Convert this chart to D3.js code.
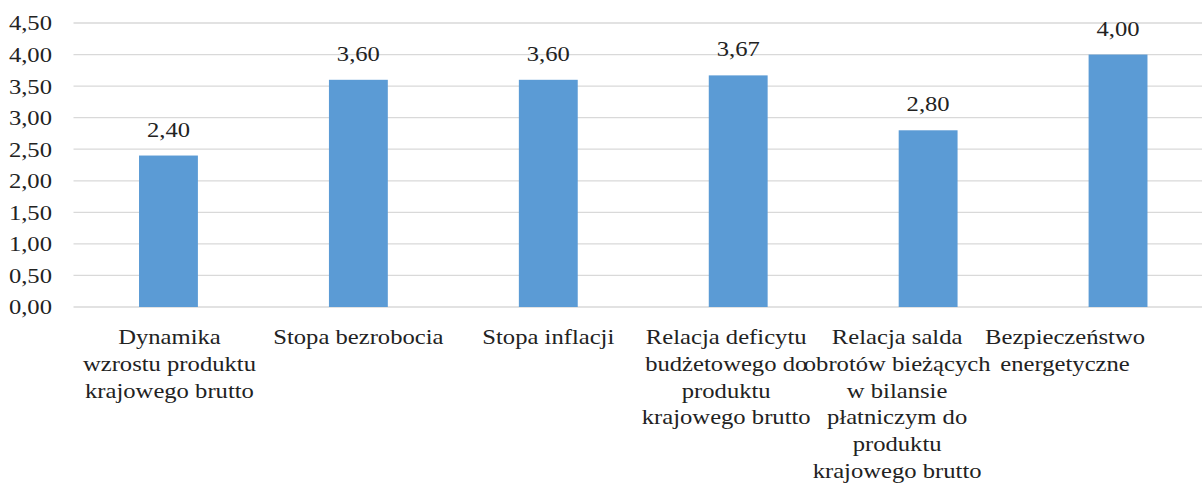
<!DOCTYPE html>
<html>
<head>
<meta charset="utf-8">
<script src="https://cdn.jsdelivr.net/npm/d3@7"></script>
</head>
<body style="margin:0">
<script>
let categories = [
    'Dynamika\nwzrostu produktu\nkrajowego brutto',
    'Stopa bezrobocia',
    'Stopa inflacji',
    'Relacja deficytu\nbudżetowego do\nproduktu\nkrajowego brutto',
    'Relacja salda\nobrotów bieżących\nw bilansie\npłatniczym do\nproduktu\nkrajowego brutto',
    'Bezpieczeństwo\nenergetyczne'
];
let values = [2.40, 3.60, 3.60, 3.67, 2.80, 4.00];
let yTicks = [0, 0.5, 1, 1.5, 2, 2.5, 3, 3.5, 4, 4.5];

let width = 1202;
let height = 490;
let mLeft = 73.5, mRight = 1213, mTop = 23, mBottom = 307;
let fam = 'Times New Roman';
let stretch = 'scale(1.12,1)'; // the original text is a bit wider than Times

// Excel pushed the later category labels left a little
let labelNudge = [1, 0, 0, -12, -31, -53];

let pl = d3.formatLocale({decimal: ',', thousands: ' ', grouping: [3], currency: ['', '']});
let fmt = pl.format('.2f');

let x = d3.scaleBand()
    .domain(d3.range(categories.length))
    .range([mLeft, mRight])
    .paddingInner(0.69)
    .paddingOuter(0.345);
let y = d3.scaleLinear().domain([0, 4.5]).range([mBottom, mTop]);

let svg = d3.select('body')
    .append('svg')
        .attr('width', width)
        .attr('height', height);

// gridlines
svg.selectAll('.grid')
        .data(yTicks)
    .enter().append('line')
        .attr('class', 'grid')
        .attr('x1', mLeft)
        .attr('x2', mRight)
        .attr('y1', (d) => y(d))
        .attr('y2', (d) => y(d))
        .attr('stroke', '#d9d9d9')
        .attr('stroke-width', 1.3);

// y labels
svg.selectAll('.ylab')
        .data(yTicks)
    .enter().append('text')
        .attr('class', 'ylab')
        .style('font-family', '"' + fam + '"')
        .attr('font-size', 22)
        .attr('fill', '#222')
        .attr('text-anchor', 'end')
        .attr('transform', (d) => 'translate(' + (mLeft - 21.5) + ',' + y(d) + ') ' + stretch)
        .attr('dy', '0.34em')
        .text((d) => fmt(d));

svg.selectAll('.bar')
        .data(values)
    .enter().append('rect')
        .attr('class', 'bar')
        .attr('x', (d, i) => x(i))
        .attr('width', x.bandwidth())
        .attr('y', (d) => y(d))
        .attr('height', (d) => mBottom - y(d))
        .attr('fill', '#5b9bd5');

svg.selectAll('.val')
        .data(values)
    .enter().append('text')
        .attr('class', 'val')
        .style('font-family', '"' + fam + '"')
        .attr('font-size', 22)
        .attr('fill', '#222')
        .attr('transform', (d, i) => 'translate(' + (x(i) + x.bandwidth() / 2) + ',' + (y(d) - 19) + ') ' + stretch)
        .attr('text-anchor', 'middle')
        .text((d) => fmt(d));

// category labels
let cat = svg.selectAll('.cat')
        .data(categories)
    .enter().append('text')
        .attr('class', 'cat')
        .style('font-family', '"' + fam + '"')
        .attr('font-size', 22)
        .attr('fill', '#222')
        .attr('text-anchor', 'middle')
        .attr('transform', (d, i) => 'translate(' + (x(i) + x.bandwidth() / 2 + labelNudge[i]) + ',' + (mBottom + 37) + ') ' + stretch);
cat.selectAll('tspan')
        .data((d) => d.split('\n'))
    .enter().append('tspan')
        .attr('x', 0)
        .attr('y', (d, j) => j * 26.8)
        .text((d) => d);
</script>
</body>
</html>
